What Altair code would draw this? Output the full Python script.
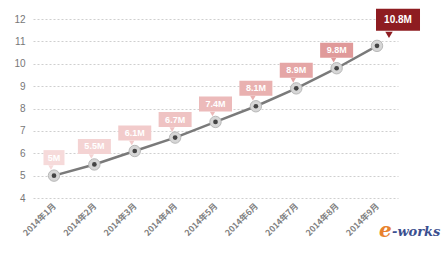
import altair as alt
import pandas as pd

months = ["2014年1月", "2014年2月", "2014年3月", "2014年4月", "2014年5月",
          "2014年6月", "2014年7月", "2014年8月", "2014年9月"]
values = [5, 5.5, 6.1, 6.7, 7.4, 8.1, 8.9, 9.8, 10.8]
labels = ["5M", "5.5M", "6.1M", "6.7M", "7.4M", "8.1M", "8.9M", "9.8M", "10.8M"]
idx = list(range(1, len(months) + 1))
y_ticks = [4, 5, 6, 7, 8, 9, 10, 11, 12]
logo = ["e", "-works"]

df = pd.DataFrame({"idx": idx, "month": months, "value": values, "label": labels})
one = pd.DataFrame({"t": [0]})

month_js = "[" + ",".join("'" + m + "'" for m in months) + "]"

x = alt.X("idx:Q",
          scale=alt.Scale(domain=[0.48, 9.52], nice=False, zero=False),
          axis=alt.Axis(values=idx, labelExpr=month_js + "[datum.value-1]",
                        grid=False, domain=False, ticks=False, labelAngle=-45,
                        labelAlign="right", labelBaseline="middle", labelPadding=6,
                        title=None, labelFontSize=8.5, labelFontWeight="bold",
                        labelColor="#808080", labelFont="Noto Sans CJK SC"))
y = alt.Y("value:Q",
          scale=alt.Scale(domain=[4, 12], nice=False, zero=False),
          axis=alt.Axis(values=y_ticks, grid=True, gridDash=[2, 2], gridColor="#cfcfcf",
                        domain=False, ticks=False, labelPadding=8, title=None,
                        labelFontSize=10, labelColor="#777777", labelFont="Liberation Sans"))

color = alt.Color("value:Q",
                  scale=alt.Scale(domain=[5, 9.8, 10.8],
                                  range=["#f6dada", "#e09a9a", "#8e1c21"]),
                  legend=None)

base = alt.Chart(df).encode(x=x, y=y)

line = base.mark_line(color="#7a7a7a", strokeWidth=2.5)
halo = base.mark_point(filled=True, size=130, color="#d6d6d6", opacity=1,
                       stroke="#b8b8b8", strokeWidth=1)
dot = base.mark_point(filled=True, size=22, color="#444444", opacity=1)

small = base.transform_filter("datum.idx < 9")
big = base.transform_filter("datum.idx == 9")

box = small.mark_rect(width=alt.ExprRef(expr="length(datum.label)*6+9"),
                      height=15, yOffset=-18).encode(color=color)
ptr = small.mark_point(shape="triangle-down", filled=True, size=28, opacity=1,
                       xOffset=-3, yOffset=-8).encode(color=color)
txt = small.mark_text(color="white", fontSize=9, fontWeight="bold",
                      font="Liberation Sans", yOffset=-18).encode(text="label:N")

box2 = big.mark_rect(width=44, height=22, xOffset=21, yOffset=-26).encode(color=color)
ptr2 = big.mark_point(shape="triangle-down", filled=True, size=55, opacity=1,
                      xOffset=12, yOffset=-11).encode(color=color)
txt2 = big.mark_text(color="white", fontSize=10, fontWeight="bold",
                     font="Liberation Sans", xOffset=21, yOffset=-26).encode(text="label:N")

logo_e = alt.Chart(one).mark_text(text=logo[0], fontSize=20, fontStyle="italic",
                                  fontWeight="bold", color="#e8822e",
                                  font="DejaVu Serif", align="left").encode(
    x=alt.value(346), y=alt.value(212))
logo_w = alt.Chart(one).mark_text(text=logo[1], fontSize=13, fontStyle="italic",
                                  fontWeight="bold", color="#3b4f8f",
                                  font="DejaVu Serif", align="left").encode(
    x=alt.value(359), y=alt.value(213))

chart = alt.layer(line, halo, dot, box, ptr, txt, box2, ptr2, txt2, logo_e, logo_w).properties(
    width=365, height=179,
    autosize=alt.AutoSizeParams(type="none"),
    padding={"left": 33, "top": 19, "right": 45, "bottom": 57},
).configure(background="white").configure_view(strokeWidth=0)

chart.save("out.html", embed_options={"renderer": "svg", "actions": False})
